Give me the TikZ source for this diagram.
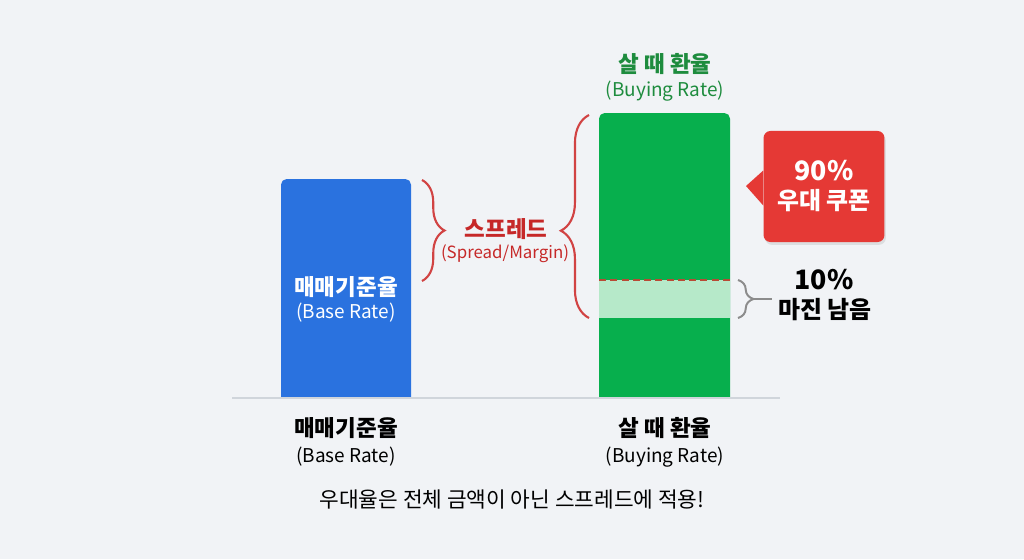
\documentclass[tikz,border=0pt]{standalone}
\usepackage{fontspec}
\setmainfont{Noto Sans CJK KR}
\usepackage{xcolor}
\usetikzlibrary{calc, positioning, decorations.pathreplacing, shadows}
\definecolor{bgGray}{HTML}{F1F3F6}
\definecolor{blueBar}{HTML}{2A72DF}
\definecolor{greenBar}{HTML}{07AF4D}
\definecolor{bandGreen}{HTML}{B6E9C9}
\definecolor{spreadRed}{HTML}{C62828}
\definecolor{braceRed}{HTML}{D14343}
\definecolor{calloutRed}{HTML}{E53935}
\definecolor{titleGreen}{HTML}{1E8C3E}
\definecolor{braceGray}{HTML}{8C8C8C}
\definecolor{axisGray}{HTML}{D0D5DB}
\definecolor{cutRed}{HTML}{B84A35}
\tikzset{
    axis/.style={draw=axisGray, line width=1.2pt},
    cut/.style={draw=cutRed, line width=1.5pt, dash pattern=on 5pt off 3pt},
    redBrace/.style={draw=braceRed, line width=1.5pt, decorate},
    grayBrace/.style={draw=braceGray, line width=1.4pt, decorate},
    title/.style={font=\bfseries\fontsize{16}{19}\selectfont, inner sep=0pt, anchor=center},
    sub/.style={font=\fontsize{13.5}{16}\selectfont, inner sep=0pt, anchor=center},
    callout/.style={rectangle, rounded corners=5pt, fill=calloutRed, minimum width=86pt, minimum height=79pt,
        drop shadow={opacity=0.18, shadow xshift=1pt, shadow yshift=-2pt}},
    bigNum/.style={font=\bfseries\fontsize{19}{22}\selectfont, inner sep=0pt},
    bigTxt/.style={font=\bfseries\fontsize{17}{20}\selectfont, inner sep=0pt},
    note/.style={font=\fontsize{15.2}{18}\selectfont, inner sep=0pt}
}
\begin{document}
\begin{tikzpicture}[x=0.025cm, y=-0.025cm]
    \fill[bgGray] (0,0) rectangle (1024,559);
    \useasboundingbox (0,0) rectangle (1024,559);

    % bars
    \fill[blueBar, rounded corners=4pt] (281,398) -- (281,179) -- (411,179) -- (411,398);
    \fill[greenBar, rounded corners=4pt] (599,398) -- (599,113) -- (730,113) -- (730,398);
    \fill[bandGreen] (599,280) rectangle (730,318);
    \coordinate (cutL) at (599,280);
    \coordinate (cutR) at (730,280);
    \draw[cut] (cutL) -- (cutR);

    % baseline
    \coordinate (axisL) at (232,398);
    \coordinate (axisR) at (780,398);
    \draw[axis] (axisL) -- (axisR);

    % labels inside and above bars
    \node[title, text=white] (BaseIn) at (346,287) {매매기준율};
    \node[sub, text=white] (BaseInSub) at (346,313) {(Base Rate)};
    \node[title, text=titleGreen] (BuyTop) at (665,64) {살 때 환율};
    \node[sub, text=titleGreen] (BuyTopSub) at (665,91) {(Buying Rate)};

    % spread braces
    \coordinate (blueTop) at (422,180);
    \coordinate (blueBot) at (422,281);
    \draw[redBrace, decoration={brace, amplitude=16pt}] (blueTop) -- (blueBot);
    \coordinate (greenTop) at (589,115);
    \coordinate (greenBot) at (589,318);
    \draw[redBrace, decoration={brace, amplitude=20pt, aspect=0.43}] (greenBot) -- (greenTop);
    \node[title, text=spreadRed] (Spread) at (506,229) {스프레드};
    \node[font=\fontsize{12}{14}\selectfont, inner sep=0pt, text=spreadRed] (SpreadSub) at (505,254) {(Spread/Margin)};

    % coupon callout
    \node[callout] (Coupon) at (824,186.5) {};
    \coordinate (CouponTip) at (746,186);
    \fill[calloutRed] ($(Coupon.west)+(0,-16)$) -- (CouponTip) -- ($(Coupon.west)+(0,19)$) -- cycle;
    \node[bigNum, text=white] (CouponPct) at (824,171) {90\%};
    \node[bigTxt, text=white] (CouponTxt) at (824,201) {우대 쿠폰};

    % remaining margin
    \coordinate (bandTop) at (738,280);
    \coordinate (bandBot) at (738,318);
    \draw[grayBrace, decoration={brace, amplitude=11pt}] (bandTop) -- (bandBot);
    \coordinate (bandTip) at (754,299);
    \coordinate (bandEnd) at (772,299);
    \draw[draw=braceGray, line width=1.4pt] (bandTip) -- (bandEnd);
    \node[bigNum] (MarginPct) at (824,280) {10\%};
    \node[bigTxt] (MarginTxt) at (825,310) {마진 남음};

    % bottom labels
    \node[title] (BaseLbl) at (346,428) {매매기준율};
    \node[sub] (BaseLblSub) at (346,457) {(Base Rate)};
    \node[title] (BuyLbl) at (665,428) {살 때 환율};
    \node[sub] (BuyLblSub) at (665,457) {(Buying Rate)};
    \node[note] (Note) at (512,499) {우대율은 전체 금액이 아닌 스프레드에 적용!};
\end{tikzpicture}
\end{document}
